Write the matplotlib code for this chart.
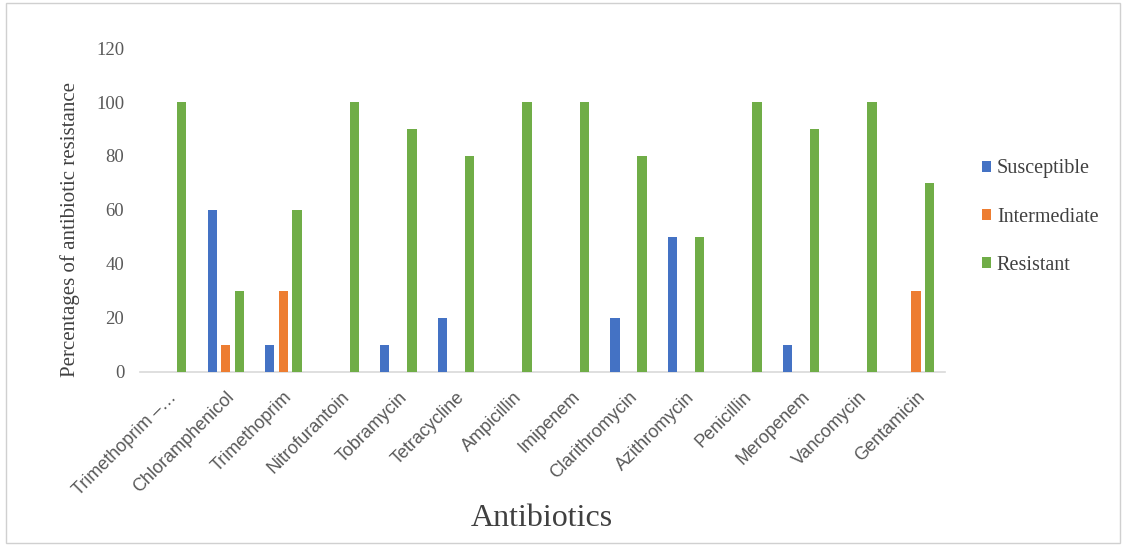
import matplotlib
matplotlib.use("Agg")
import matplotlib.pyplot as plt
import numpy as np
from matplotlib.patches import Rectangle

# ── data ─────────────────────────────────────────────
antibiotics = ["Trimethoprim –…", "Chloramphenicol", "Trimethoprim", "Nitrofurantoin",
               "Tobramycin", "Tetracycline", "Ampicillin", "Imipenem", "Clarithromycin",
               "Azithromycin", "Penicillin", "Meropenem", "Vancomycin", "Gentamicin"]
susceptible = [0, 60, 10, 0, 10, 20, 0, 0, 20, 50, 0, 10, 0, 0]
intermediate = [0, 10, 30, 0, 0, 0, 0, 0, 0, 0, 0, 0, 0, 30]
resistant = [100, 30, 60, 100, 90, 80, 100, 100, 80, 50, 100, 90, 100, 70]
yticks = [0, 20, 40, 60, 80, 100, 120]

series = [("Susceptible", susceptible, "#4472C4"),
          ("Intermediate", intermediate, "#ED7D31"),
          ("Resistant", resistant, "#70AD47")]

SERIF = ["Liberation Serif", "DejaVu Serif"]
SANS = ["Liberation Sans", "DejaVu Sans"]

fig = plt.figure(figsize=(11.26, 5.46), dpi=100)
fig.patch.set_facecolor("white")
ax = fig.add_axes([0.124, 0.319, 0.715, 0.593])

x = np.arange(len(antibiotics))
width = 0.16
step = 0.235
for i, (name, vals, col) in enumerate(series):
    ax.bar(x + (i - 1) * step, vals, width=width, color=col, label=name, zorder=3)

ax.set_xlim(-0.5, len(antibiotics) - 0.5)
ax.set_ylim(0, 120)
ax.set_yticks(yticks)
ax.set_yticklabels([str(v) for v in yticks], family=SERIF, fontsize=13.5, color="#595959")
ax.tick_params(axis="y", length=0, pad=11)
ax.tick_params(axis="x", length=0, pad=12)
ax.set_xticks(x)
ax.set_xticklabels(antibiotics, rotation=45, ha="right", rotation_mode="anchor",
                   family=SANS, fontsize=13, color="#595959")

for s in ["top", "right", "left"]:
    ax.spines[s].set_visible(False)
ax.spines["bottom"].set_color("#D9D9D9")
ax.spines["bottom"].set_linewidth(1.2)

# axis titles
fig.text(70 / 1126, 1 - 229 / 546, "Percentages of antibiotic resistance", family=SERIF,
         fontsize=15, color="#404040", rotation=90, ha="center", va="center")
fig.text(542 / 1126, 1 - 518 / 546, "Antibiotics", family=SERIF, fontsize=23,
         color="#404040", ha="center", va="center")

leg = ax.legend(loc="center left", bbox_to_anchor=(1.046, 0.478), frameon=False,
                prop={"family": SERIF, "size": 14.5}, handlelength=0.45, handleheight=0.45,
                handletextpad=0.3, labelspacing=1.45, borderaxespad=0, borderpad=0)
for t in leg.get_texts():
    t.set_color("#404040")

# thin frame round the picture
fig.patches.append(Rectangle((0.005, 0.005), 0.99, 0.99, transform=fig.transFigure,
                             fill=False, edgecolor="#D0D0D0", linewidth=1))

fig.savefig("out.png", dpi=100)
